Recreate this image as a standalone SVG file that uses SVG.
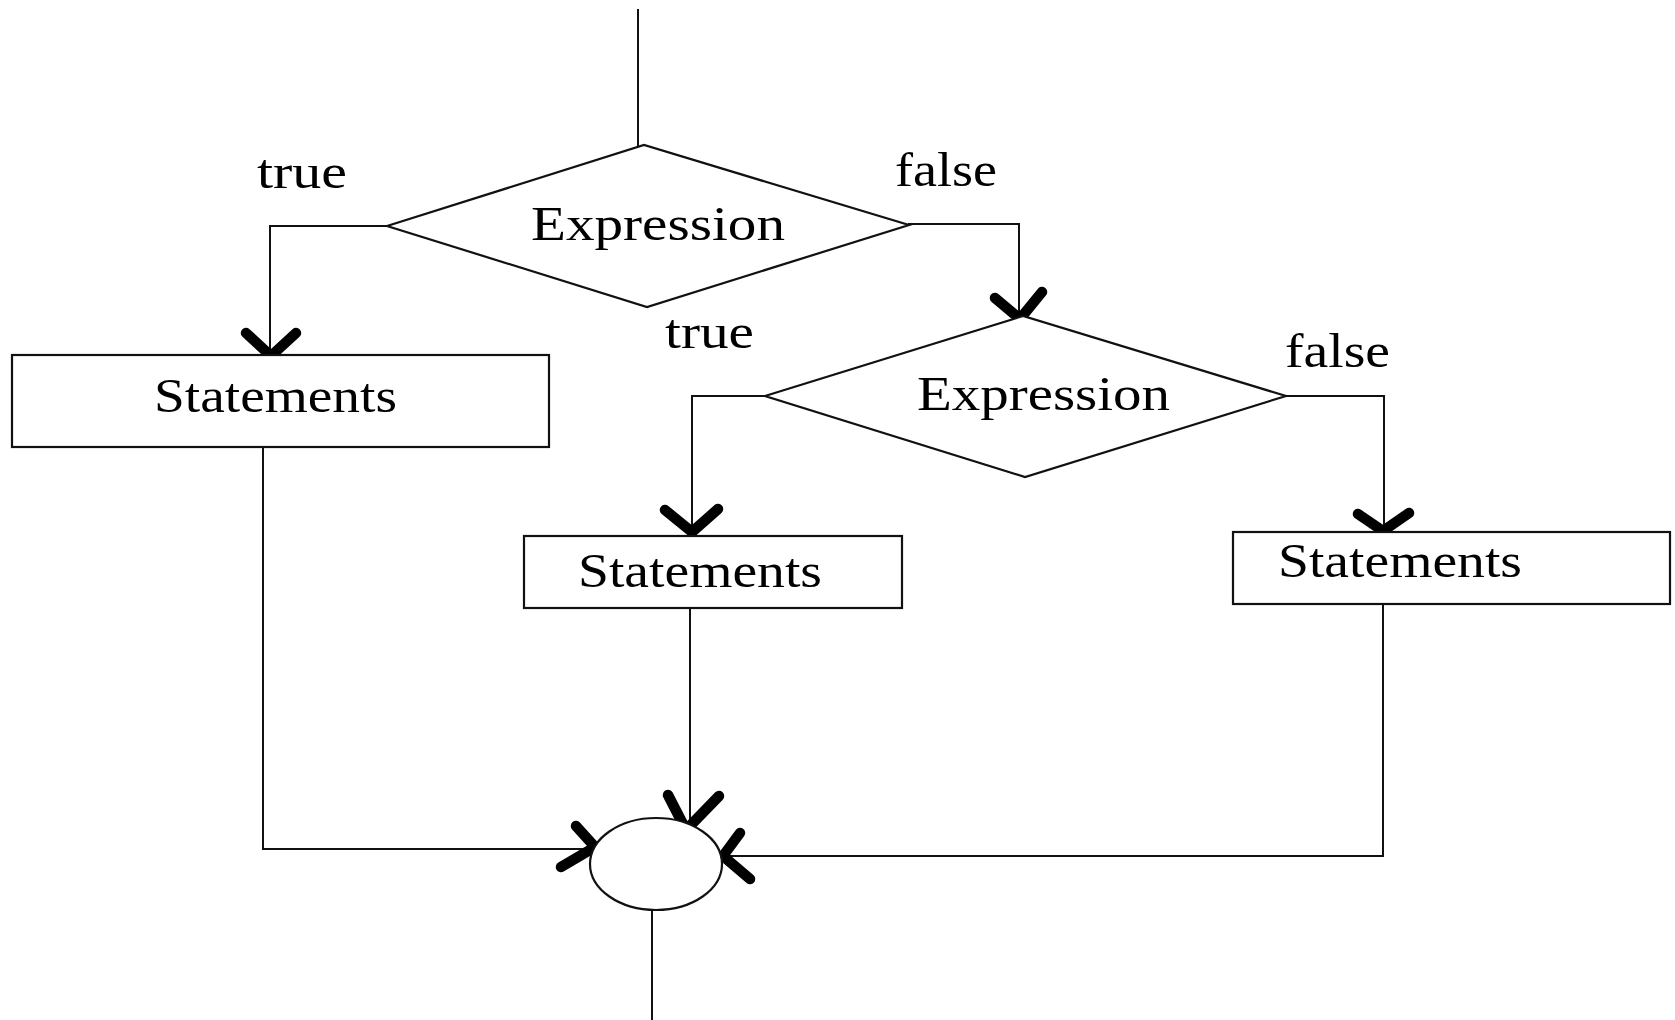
<svg xmlns="http://www.w3.org/2000/svg" width="1675" height="1020" viewBox="0 0 1675 1020">
  <style>
    .shape { fill: #ffffff; stroke: #111111; stroke-width: 2.2; }
    .link { fill: none; stroke: #111111; stroke-width: 2; }
    .head { fill: none; stroke: #000000; stroke-width: 10.5; stroke-linecap: round; stroke-linejoin: round; }
    .label { font-family: "Liberation Serif", "Times New Roman", serif; font-size: 48px; fill: #000000; }
  </style>
  <rect x="0" y="0" width="1675" height="1020" fill="#ffffff"/>

  <!-- connectors -->
  <g id="connectors">
    <line class="link" x1="638" y1="9" x2="638" y2="146"/>
    <polyline class="link" points="387,226 270,226 270,355"/>
    <polyline class="link" points="908,224 1019,224 1019,316"/>
    <polyline class="link" points="765,396 692,396 692,536"/>
    <polyline class="link" points="1286,396 1384,396 1384,532"/>
    <polyline class="link" points="263,446 263,849 592,849"/>
    <polyline class="link" points="690,608 690,822"/>
    <polyline class="link" points="1383,604 1383,856 722,856"/>
    <line class="link" x1="652" y1="910" x2="652" y2="1020"/>
    <!-- arrowheads -->
    <polyline class="head" points="246,333 271,356 296,333"/>
    <polyline class="head" points="995,298 1020,319 1042,292"/>
    <polyline class="head" points="665,510 692,532 718,509"/>
    <polyline class="head" points="1358,514 1383,531 1409,513"/>
    <polyline class="head" points="668,795 686,830 719,796"/>
    <polyline class="head" points="576,826 595,847 561,867"/>
    <polyline class="head" points="740,833 723,856 750,879"/>
  </g>

  <!-- branch labels -->
  <g id="labels">
    <text class="label" x="257" y="188" textLength="90" lengthAdjust="spacingAndGlyphs">true</text>
    <text class="label" x="895" y="186" textLength="102" lengthAdjust="spacingAndGlyphs">false</text>
    <text class="label" x="665" y="348" textLength="89" lengthAdjust="spacingAndGlyphs">true</text>
    <text class="label" x="1285" y="367" textLength="105" lengthAdjust="spacingAndGlyphs">false</text>
  </g>

  <!-- first decision -->
  <g id="decision1">
    <polygon class="shape" points="387,226 644,145 909,225 647,307"/>
    <text class="label" x="531" y="240" textLength="254" lengthAdjust="spacingAndGlyphs">Expression</text>
  </g>

  <!-- second decision -->
  <g id="decision2">
    <polygon class="shape" points="765,396 1023,316 1286,396 1025,477"/>
    <text class="label" x="917" y="410" textLength="253" lengthAdjust="spacingAndGlyphs">Expression</text>
  </g>

  <!-- statement blocks -->
  <g id="statements1">
    <rect class="shape" x="12" y="355" width="537" height="92"/>
    <text class="label" x="154" y="412" textLength="243" lengthAdjust="spacingAndGlyphs">Statements</text>
  </g>
  <g id="statements2">
    <rect class="shape" x="524" y="536" width="378" height="72"/>
    <text class="label" x="578" y="587" textLength="244" lengthAdjust="spacingAndGlyphs">Statements</text>
  </g>
  <g id="statements3">
    <rect class="shape" x="1233" y="532" width="437" height="72"/>
    <text class="label" x="1278" y="577" textLength="244" lengthAdjust="spacingAndGlyphs">Statements</text>
  </g>

  <!-- merge point -->
  <g id="merge">
    <ellipse class="shape" cx="656" cy="864" rx="66" ry="46" stroke-width="1.6"/>
  </g>
</svg>
